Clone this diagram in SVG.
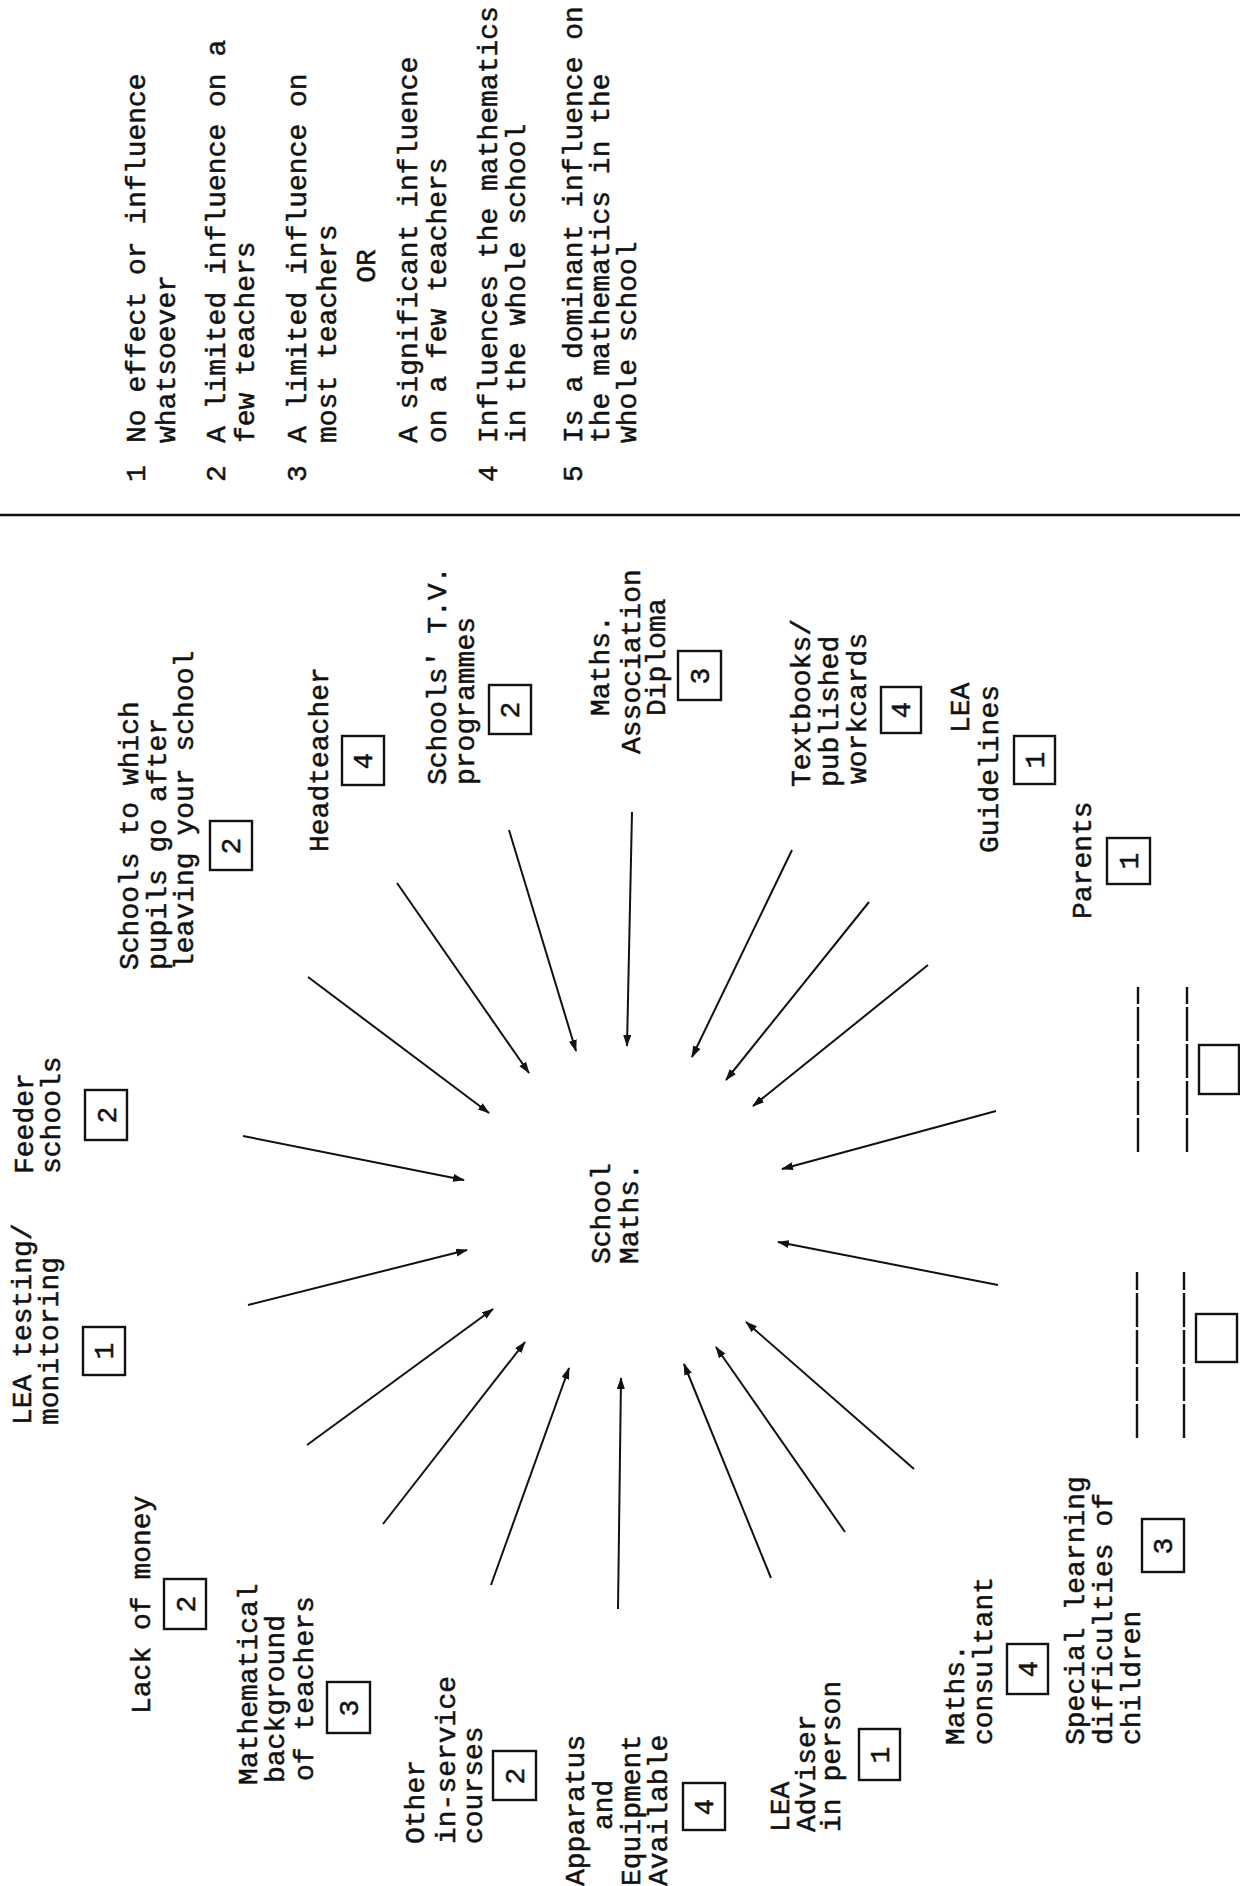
<svg xmlns="http://www.w3.org/2000/svg" width="1240" height="1886" viewBox="0 0 1240 1886">
<style>
text{font-family:"Liberation Mono","Courier New",monospace;font-size:28px;fill:#111;stroke:#111;stroke-width:0.5}
.num{text-anchor:middle}
.box{fill:none;stroke:#111;stroke-width:2.4}
.rule{stroke:#111;stroke-width:2.5}
.dash{stroke:#111;stroke-width:2.4;stroke-dasharray:34 3}
.arr{stroke:#111;stroke-width:2;fill:none;marker-end:url(#ah)}
</style>
<defs>
<marker id="ah" markerUnits="userSpaceOnUse" markerWidth="14" markerHeight="10" refX="11" refY="4" orient="auto">
<path d="M0,0 L12,4 L0,8 Z" fill="#111"/>
</marker>
</defs>
<rect width="1240" height="1886" fill="#fff"/>
<g id="connectors">
<line class="arr" x1="248" y1="1305" x2="467" y2="1250"/>
<line class="arr" x1="243" y1="1136" x2="464" y2="1180"/>
<line class="arr" x1="308" y1="977" x2="489" y2="1113"/>
<line class="arr" x1="397" y1="883" x2="529" y2="1073"/>
<line class="arr" x1="509" y1="830" x2="576" y2="1051"/>
<line class="arr" x1="632" y1="812" x2="627" y2="1046"/>
<line class="arr" x1="792" y1="850" x2="692" y2="1057"/>
<line class="arr" x1="869" y1="902" x2="726" y2="1080"/>
<line class="arr" x1="928" y1="965" x2="753" y2="1106"/>
<line class="arr" x1="996" y1="1111" x2="782" y2="1169"/>
<line class="arr" x1="998" y1="1285" x2="778" y2="1242"/>
<line class="arr" x1="914" y1="1469" x2="746" y2="1322"/>
<line class="arr" x1="845" y1="1532" x2="716" y2="1347"/>
<line class="arr" x1="771" y1="1578" x2="684" y2="1364"/>
<line class="arr" x1="618" y1="1609" x2="621" y2="1378"/>
<line class="arr" x1="491" y1="1585" x2="569" y2="1368"/>
<line class="arr" x1="383" y1="1524" x2="525" y2="1342"/>
<line class="arr" x1="307" y1="1445" x2="493" y2="1309"/>
</g>
<g id="page" transform="translate(0,1886) rotate(-90)">
<g id="legend">
<text x="1404" y="145">1</text><text x="1443" y="145">No effect or influence</text><text x="1443" y="175">whatsoever</text>
<text x="1404" y="225">2</text><text x="1443" y="225">A limited influence on a</text><text x="1443" y="254">few teachers</text>
<text x="1404" y="306">3</text><text x="1443" y="306">A limited influence on</text><text x="1443" y="336">most teachers</text>
<text x="1620" y="375" class="num">OR</text>
<text x="1443" y="417">A significant influence</text><text x="1443" y="446">on a few teachers</text>
<text x="1404" y="497">4</text><text x="1443" y="497">Influences the mathematics</text><text x="1443" y="525">in the whole school</text>
<text x="1404" y="582">5</text><text x="1443" y="582">Is a dominant influence on</text><text x="1443" y="609">the mathematics in the</text><text x="1443" y="636">whole school</text>
</g>
<line id="divider" class="rule" x1="1371" y1="0" x2="1371" y2="1240"/>
<g id="center">
<text x="622" y="610">School</text><text x="622" y="638">Maths.</text>
</g>
<g id="n-lea-testing">
<text x="461" y="31">LEA testing/</text><text x="461" y="58">monitoring</text>
<rect class="box" x="511" y="83" width="48" height="42"/><text class="num" x="535" y="113">1</text>
</g>
<g id="n-feeder">
<text x="712" y="33">Feeder</text><text x="712" y="60">schools</text>
<rect class="box" x="746" y="85" width="50" height="42"/><text class="num" x="771" y="116">2</text>
</g>
<g id="n-schools-after">
<text x="916" y="138">Schools to which</text><text x="916" y="166">pupils go after</text><text x="916" y="193">leaving your school</text>
<rect class="box" x="1016" y="210" width="49" height="42"/><text class="num" x="1040" y="240">2</text>
</g>
<g id="n-headteacher">
<text x="1034" y="328">Headteacher</text>
<rect class="box" x="1101" y="342" width="49" height="42"/><text class="num" x="1125" y="372">4</text>
</g>
<g id="n-tv">
<text x="1101" y="446">Schools' T.V.</text><text x="1101" y="474">programmes</text>
<rect class="box" x="1152" y="489" width="49" height="42"/><text class="num" x="1176" y="519">2</text>
</g>
<g id="n-ma-diploma">
<text x="1170" y="609">Maths.</text><text x="1132" y="640">Association</text><text x="1170" y="665">Diploma</text>
<rect class="box" x="1186" y="678" width="49" height="43"/><text class="num" x="1210" y="709">3</text>
</g>
<g id="n-textbooks">
<text x="1099" y="810">Textbooks/</text><text x="1099" y="838">published</text><text x="1102" y="866">workcards</text>
<rect class="box" x="1153" y="881" width="46" height="40"/><text class="num" x="1176" y="910">4</text>
</g>
<g id="n-lea-guidelines">
<text x="1153" y="969">LEA</text><text x="1033" y="998">Guidelines</text>
<rect class="box" x="1102" y="1014" width="48" height="41"/><text class="num" x="1126" y="1044">1</text>
</g>
<g id="n-parents">
<text x="967" y="1091">Parents</text>
<rect class="box" x="1002" y="1107" width="46" height="43"/><text class="num" x="1025" y="1138">1</text>
</g>
<g id="n-blank-top">
<line class="dash" x1="734" y1="1138" x2="899" y2="1138"/>
<line class="dash" x1="734" y1="1187" x2="899" y2="1187"/>
<rect class="box" x="792" y="1199" width="49" height="40"/>
</g>
<g id="n-blank-bottom">
<line class="dash" x1="448" y1="1137" x2="614" y2="1137"/>
<line class="dash" x1="448" y1="1184" x2="614" y2="1184"/>
<rect class="box" x="524" y="1196" width="48" height="41"/>
</g>
<g id="n-special">
<text x="141" y="1084">Special learning</text><text x="141" y="1112">difficulties of</text><text x="141" y="1140">children</text>
<rect class="box" x="314" y="1142" width="53" height="42"/><text class="num" x="340" y="1172">3</text>
</g>
<g id="n-consultant">
<text x="141" y="964">Maths.</text><text x="141" y="992">consultant</text>
<rect class="box" x="192" y="1007" width="50" height="41"/><text class="num" x="217" y="1037">4</text>
</g>
<g id="n-lea-adviser">
<text x="54" y="789">LEA</text><text x="54" y="815">Adviser</text><text x="54" y="840">in person</text>
<rect class="box" x="106" y="859" width="51" height="41"/><text class="num" x="131" y="889">1</text>
</g>
<g id="n-apparatus">
<text x="0" y="584">Apparatus</text><text x="56" y="612">and</text><text x="0" y="640">Equipment</text><text x="0" y="667">Available</text>
<rect class="box" x="56" y="683" width="47" height="42"/><text class="num" x="79" y="713">4</text>
</g>
<g id="n-inservice">
<text x="42" y="424">Other</text><text x="42" y="455">in-service</text><text x="42" y="482">courses</text>
<rect class="box" x="86" y="493" width="49" height="43"/><text class="num" x="110" y="524">2</text>
</g>
<g id="n-math-background">
<text x="101" y="257">Mathematical</text><text x="103" y="284">background</text><text x="105" y="313">of teachers</text>
<rect class="box" x="153" y="327" width="51" height="43"/><text class="num" x="178" y="358">3</text>
</g>
<g id="n-lack-money">
<text x="172" y="150">Lack of money</text>
<rect class="box" x="257" y="164" width="50" height="42"/><text class="num" x="282" y="195">2</text>
</g>
</g>
</svg>
